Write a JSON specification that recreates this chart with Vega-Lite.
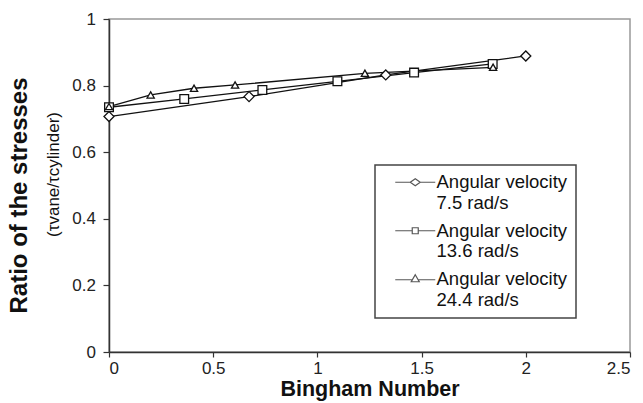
{
  "$schema": "https://vega.github.io/schema/vega-lite/v6.json",
  "width": 521,
  "height": 333,
  "autosize": {"type": "none"},
  "padding": {"left": 109, "top": 19, "right": 13, "bottom": 51},
  "background": "white",
  "config": {
    "font": "Liberation Sans",
    "view": {"stroke": "#999999", "strokeWidth": 1.5},
    "axis": {
      "grid": false,
      "domainColor": "#333333",
      "domainWidth": 1.5,
      "tickColor": "#333333",
      "tickWidth": 1.2,
      "labelColor": "#222222",
      "labelFontSize": 17,
      "labelFont": "Liberation Sans",
      "titleFont": "Liberation Sans",
      "titleColor": "#111111"
    },
    "legend": {"strokeWidth": 1.5}
  },
  "title": {
    "text": "Ratio of the stresses",
    "orient": "left",
    "anchor": "middle",
    "fontSize": 24,
    "fontWeight": "bold",
    "font": "Liberation Sans",
    "color": "#111111",
    "offset": 12,
    "dx": -10
  },
  "data": {
    "values": [
      {"series": "Angular velocity|7.5 rad/s", "B": 0, "ratio": 0.707},
      {"series": "Angular velocity|7.5 rad/s", "B": 0.672, "ratio": 0.767},
      {"series": "Angular velocity|7.5 rad/s", "B": 1.328, "ratio": 0.832},
      {"series": "Angular velocity|7.5 rad/s", "B": 2.0, "ratio": 0.889},
      {"series": "Angular velocity|13.6 rad/s", "B": 0, "ratio": 0.735},
      {"series": "Angular velocity|13.6 rad/s", "B": 0.361, "ratio": 0.76},
      {"series": "Angular velocity|13.6 rad/s", "B": 0.736, "ratio": 0.787},
      {"series": "Angular velocity|13.6 rad/s", "B": 1.096, "ratio": 0.813},
      {"series": "Angular velocity|13.6 rad/s", "B": 1.464, "ratio": 0.839},
      {"series": "Angular velocity|13.6 rad/s", "B": 1.841, "ratio": 0.865},
      {"series": "Angular velocity|24.4 rad/s", "B": 0, "ratio": 0.737},
      {"series": "Angular velocity|24.4 rad/s", "B": 0.2, "ratio": 0.772},
      {"series": "Angular velocity|24.4 rad/s", "B": 0.408, "ratio": 0.792},
      {"series": "Angular velocity|24.4 rad/s", "B": 0.605, "ratio": 0.802},
      {"series": "Angular velocity|24.4 rad/s", "B": 1.228, "ratio": 0.837},
      {"series": "Angular velocity|24.4 rad/s", "B": 1.843, "ratio": 0.855}
    ]
  },
  "encoding": {
    "x": {
      "field": "B",
      "type": "quantitative",
      "scale": {"domain": [0, 2.5], "nice": false, "zero": false},
      "axis": {
        "title": "Bingham Number",
        "titleFontSize": 21.5,
        "titleFontWeight": "bold",
        "titlePadding": 2,
        "values": [0, 0.5, 1, 1.5, 2, 2.5],
        "format": "~g",
        "tickSize": 5,
        "labelPadding": 3
      }
    },
    "y": {
      "field": "ratio",
      "type": "quantitative",
      "scale": {"domain": [0, 1], "nice": false},
      "axis": {
        "title": "(τvane/τcylinder)",
        "titleFontSize": 17,
        "titleFontWeight": "normal",
        "titleAngle": -90,
        "titleX": -56,
        "titleY": 155,
        "titleAlign": "center",
        "titleBaseline": "middle",
        "values": [0, 0.2, 0.4, 0.6, 0.8, 1],
        "format": "~g",
        "tickSize": 6,
        "labelPadding": 7.5
      }
    }
  },
  "layer": [
    {
      "mark": {"type": "line", "color": "#111111", "strokeWidth": 1.3},
      "encoding": {"detail": {"field": "series"}}
    },
    {
      "mark": {"type": "point", "filled": true, "fill": "white", "stroke": "#111111", "strokeWidth": 1.3, "opacity": 1},
      "encoding": {
        "shape": {
          "field": "series",
          "scale": {
            "domain": ["Angular velocity|7.5 rad/s", "Angular velocity|13.6 rad/s", "Angular velocity|24.4 rad/s"],
            "range": ["diamond", "square", "triangle-up"]
          },
          "legend": null
        },
        "size": {
          "field": "series",
          "scale": {
            "domain": ["Angular velocity|7.5 rad/s", "Angular velocity|13.6 rad/s", "Angular velocity|24.4 rad/s"],
            "range": [100, 52, 110]
          },
          "legend": null
        }
      }
    },
    {
      "transform": [{"filter": "false"}],
      "mark": {"type": "point", "filled": false, "color": "#111111", "strokeWidth": 1.2},
      "encoding": {
        "shape": {
          "field": "series",
          "scale": {
            "domain": ["Angular velocity|7.5 rad/s", "Angular velocity|13.6 rad/s", "Angular velocity|24.4 rad/s"],
            "range": [
              "M-4,0L-1,0M1,0L4,0M-1,0L0,-0.7L1,0L0,0.7Z",
              "M-4,0L-0.6,0M0.6,0L4,0M-0.6,-0.6L0.6,-0.6L0.6,0.6L-0.6,0.6Z",
              "M-4,0.1L-0.57,0.1M0.57,0.1L4,0.1M0,-0.9L0.8,0.5L-0.8,0.5Z"
            ]
          },
          "legend": {
            "title": null,
            "orient": "none",
            "legendX": 266,
            "legendY": 146,
            "padding": 8,
            "strokeColor": "#444444",
            "symbolSize": 100,
            "symbolOffset": 23,
            "labelOffset": 12,
            "labelFontSize": 18.5,
            "labelFont": "Liberation Sans",
            "labelColor": "#111111",
            "labelLimit": 400,
            "labelExpr": "split(datum.label, '|')",
            "rowPadding": 8.5,
            "symbolStrokeColor": "#111111",
            "symbolStrokeWidth": 1.2,
            "encode": {
              "labels": {"update": {"lineHeight": {"value": 21}}}
            }
          }
        }
      }
    }
  ],
  "resolve": {"scale": {"shape": "independent"}}
}
